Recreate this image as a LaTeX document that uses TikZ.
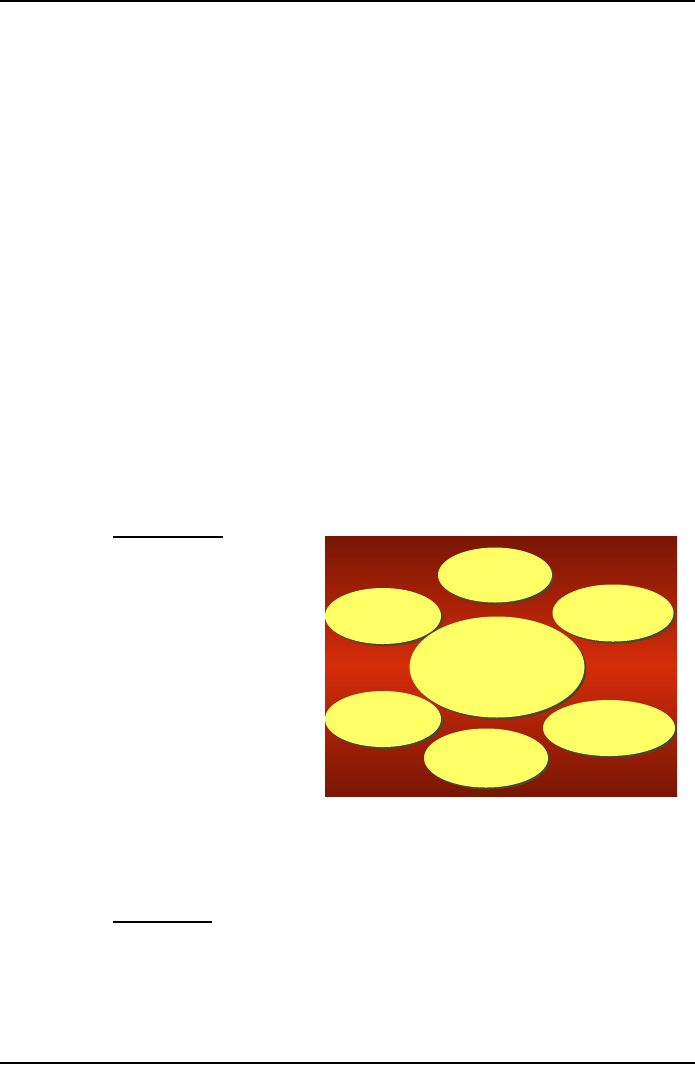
\documentclass[tikz,border=0pt]{standalone}
\usepackage{tikz}
\usetikzlibrary{shapes.geometric,shadows}
\definecolor{darkred}{HTML}{781604}
\definecolor{brightred}{HTML}{D62C0A}
\definecolor{pale}{HTML}{FFFF66}
\definecolor{shade}{HTML}{4A4636}
\tikzset{
    bubble/.style={ellipse, inner sep=0mm, fill=pale, draw=none,
        drop shadow={shadow xshift=2pt, shadow yshift=-2pt, fill=shade, opacity=1}},
    rule/.style={line width=2pt}
}

\begin{document}
\begin{tikzpicture}[x=1pt, y=-1pt]
        \useasboundingbox[fill=white] (0,0) rectangle (695,1066);
        % page rules
        \draw[rule] (0,1) -- (695,1);
        \draw[rule] (0,1063) -- (695,1063);
        \draw[line width=1.7pt] (113,537) -- (223,537);
        \draw[line width=1.7pt] (113,922) -- (212,922);
        % background panel
        \shade[top color=darkred, bottom color=darkred, middle color=brightred]
                (325,536) rectangle (677,796);
        % bubbles
        \node (b1) [bubble, minimum width=114pt, minimum height=55pt] at (495, 575) {};
        \node (b2) [bubble, minimum width=116pt, minimum height=56pt] at (383, 616) {};
        \node (b3) [bubble, minimum width=121pt, minimum height=57pt] at (613, 613) {};
        \node (b5) [bubble, minimum width=116pt, minimum height=56pt] at (383, 719) {};
        \node (b6) [bubble, minimum width=132pt, minimum height=56pt] at (609, 728) {};
        \node (b7) [bubble, minimum width=124pt, minimum height=59pt] at (486, 758) {};
        \node (b4) [bubble, minimum width=175pt, minimum height=101pt] at (497, 667) {};
\end{tikzpicture}
\end{document}
